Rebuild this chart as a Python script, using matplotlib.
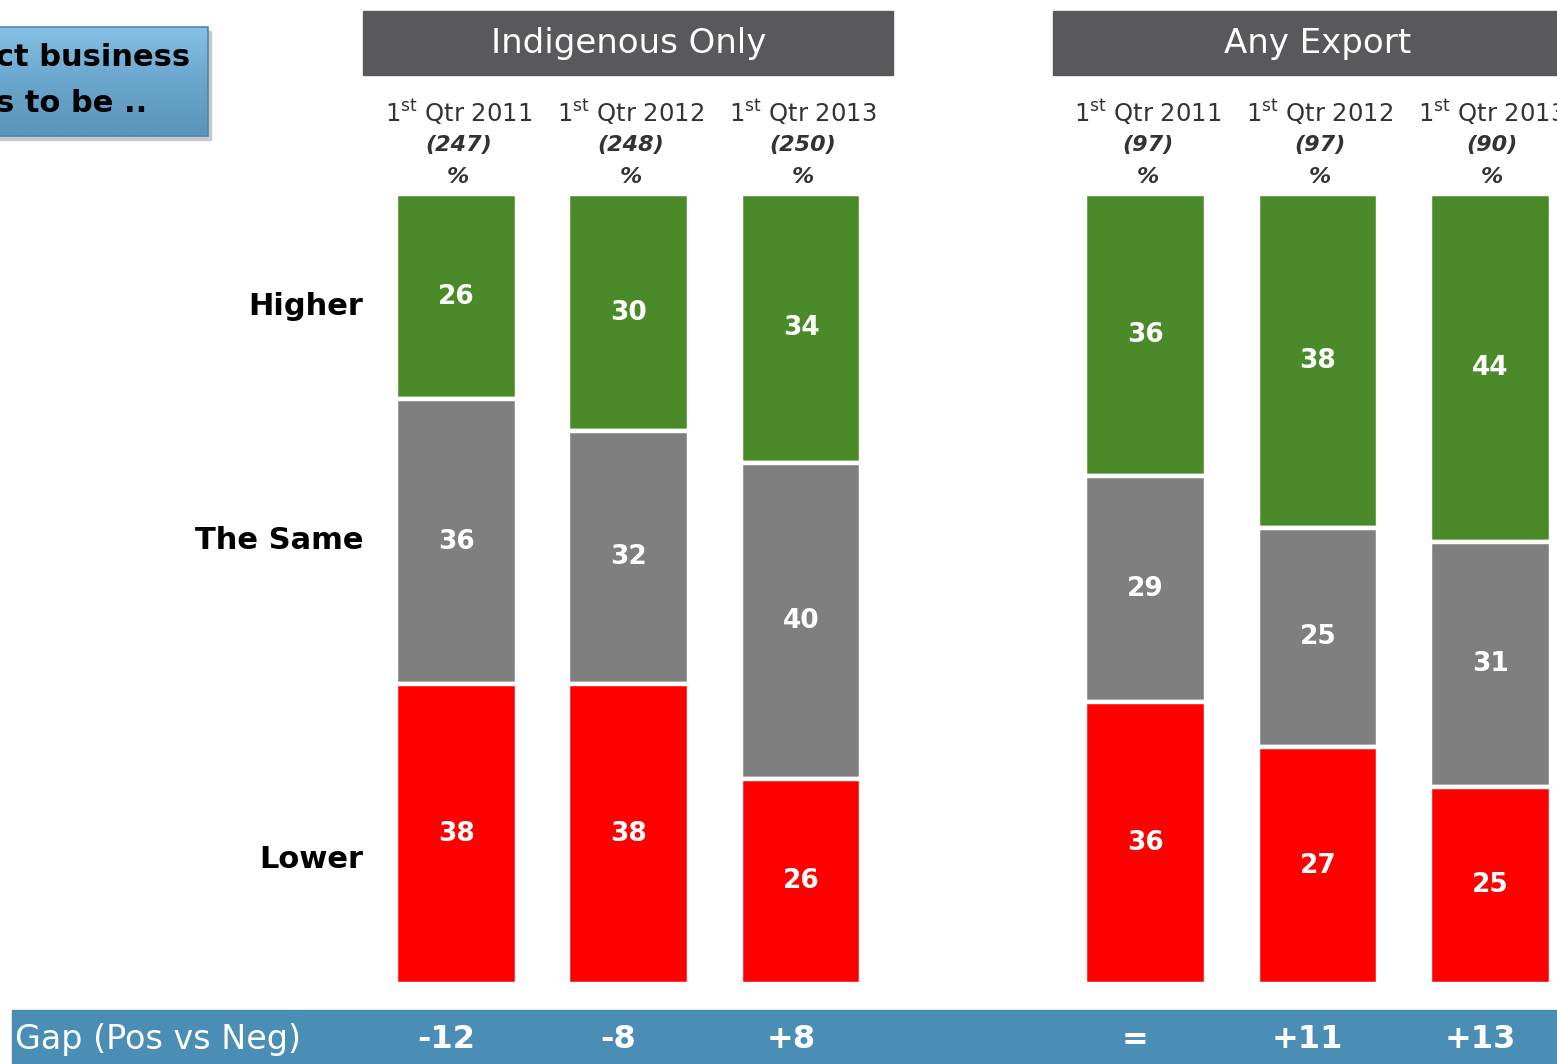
import numpy as np
import matplotlib
matplotlib.use('Agg')
import matplotlib.pyplot as plt
import matplotlib.transforms as mtransforms
from matplotlib.patches import Rectangle

# Данные
groups = ['Indigenous Only', 'Any Export']
years = ['2011', '2012', '2013', '2011', '2012', '2013']
bases = [247, 248, 250, 97, 97, 90]
higher = [26, 30, 34, 36, 38, 44]
same = [36, 32, 40, 29, 25, 31]
lower = [38, 38, 26, 36, 27, 25]
gaps = ['-12', '-8', '+8', '=', '+11', '+13']
categories = ['Higher', 'The Same', 'Lower']

# Цвета
c_green = '#4a8a28'
c_grey = '#7f7f7f'
c_red = '#ff0000'
c_head = '#59595b'
c_gap = '#4a8db5'

W, H = 1557, 1064
fig = plt.figure(figsize=(W / 100, H / 100), dpi=100)

# Фоновая ось в пикселях
bg = fig.add_axes([0, 0, 1, 1])
bg.set_xlim(0, W)
bg.set_ylim(H, 0)
bg.axis('off')

# Позиции столбцов (слоты), шаг 172.3 px
slots = np.array([0, 1, 2, 4, 5, 6])
step, x0 = 172.3, 456.5
bar_top, bar_bot = 194, 984

ax = fig.add_axes([0, (H - bar_bot) / H, 1, (bar_bot - bar_top) / H])
ax.set_xlim(-x0 / step, (W - x0) / step)
ax.set_ylim(100, 0)
ax.axis('off')
ax.patch.set_alpha(0)

vals = np.array([higher, same, lower], dtype=float)
shares = vals / vals.sum(axis=0) * 100
colors = [c_green, c_grey, c_red]
bottom = np.zeros(len(slots))
for k in range(3):
    ax.bar(slots, shares[k], bottom=bottom, width=0.70, color=colors[k],
           edgecolor='white', linewidth=3.2)
    for i, s in enumerate(slots):
        ax.text(s, bottom[i] + shares[k][i] / 2, str(int(vals[k][i])),
                ha='center', va='center', color='white', fontsize=19,
                fontweight='bold')
    bottom += shares[k]

# Подписи категорий
for lab, y in zip(categories, [14.3, 43.9, 84.2]):
    ax.text(-0.54, y, lab, ha='right', va='center', fontsize=22,
            fontweight='bold', color='black')

# Заголовки групп
trans = mtransforms.blended_transform_factory(ax.transData, bg.transData)
for g, mid in zip(groups, [1, 5]):
    xl = x0 + (mid - 1.54) * step
    bg.add_patch(Rectangle((xl, 11), 530, 64, color=c_head, zorder=1))
    ax.text(mid, 44, g, transform=trans, ha='center', va='center',
            color='white', fontsize=24.5, zorder=3, clip_on=False)

# Подписи колонок
for i, s in enumerate(slots):
    ax.text(s + 0.01, 112, r'1$^{\mathregular{st}}$ Qtr ' + years[i],
            transform=trans, ha='center', va='center', fontsize=17.5,
            color='#333333')
    ax.text(s + 0.01, 145, '(%d)' % bases[i], transform=trans, ha='center',
            va='center', fontsize=16, color='#333333', style='italic',
            fontweight='bold')
    ax.text(s + 0.01, 177, '%', transform=trans, ha='center', va='center',
            fontsize=16, color='#333333', style='italic', fontweight='bold')

# Полоса Gap
bg.add_patch(Rectangle((12, 1010), W - 12, 60, color=c_gap, zorder=1))
bg.text(15, 1040, 'Gap (Pos vs Neg)', ha='left', va='center', color='white',
        fontsize=24, zorder=2)
for i, s in enumerate(slots):
    ax.text(s - 0.06, 1040, gaps[i], transform=trans, ha='center',
            va='center', color='white', fontsize=23, fontweight='bold')

# Блок заголовка слева (обрезан)
bg.add_patch(Rectangle((-5, 31), 216, 109, color='#c8c8c8', zorder=1))
grad = np.linspace(0, 1, 100).reshape(-1, 1)
cmap = matplotlib.colors.LinearSegmentedColormap.from_list(
    'b', ['#86c0e4', '#6aa6cc', '#5b94ba'])
bg.imshow(grad, extent=(-5, 208, 136, 27), cmap=cmap, aspect='auto',
          zorder=2)
bg.add_patch(Rectangle((-5, 27), 213, 109, fill=False, edgecolor='#4f86ab',
                       linewidth=1.2, zorder=3))
bg.text(-4, 58, 'ct business', ha='left', va='center', fontsize=22,
        fontweight='bold', color='black', zorder=4)
bg.text(-4, 103, 's to be ..', ha='left', va='center', fontsize=22,
        fontweight='bold', color='black', zorder=4)
bg.set_xlim(0, W)
bg.set_ylim(H, 0)

plt.savefig('out.png', dpi=100)
